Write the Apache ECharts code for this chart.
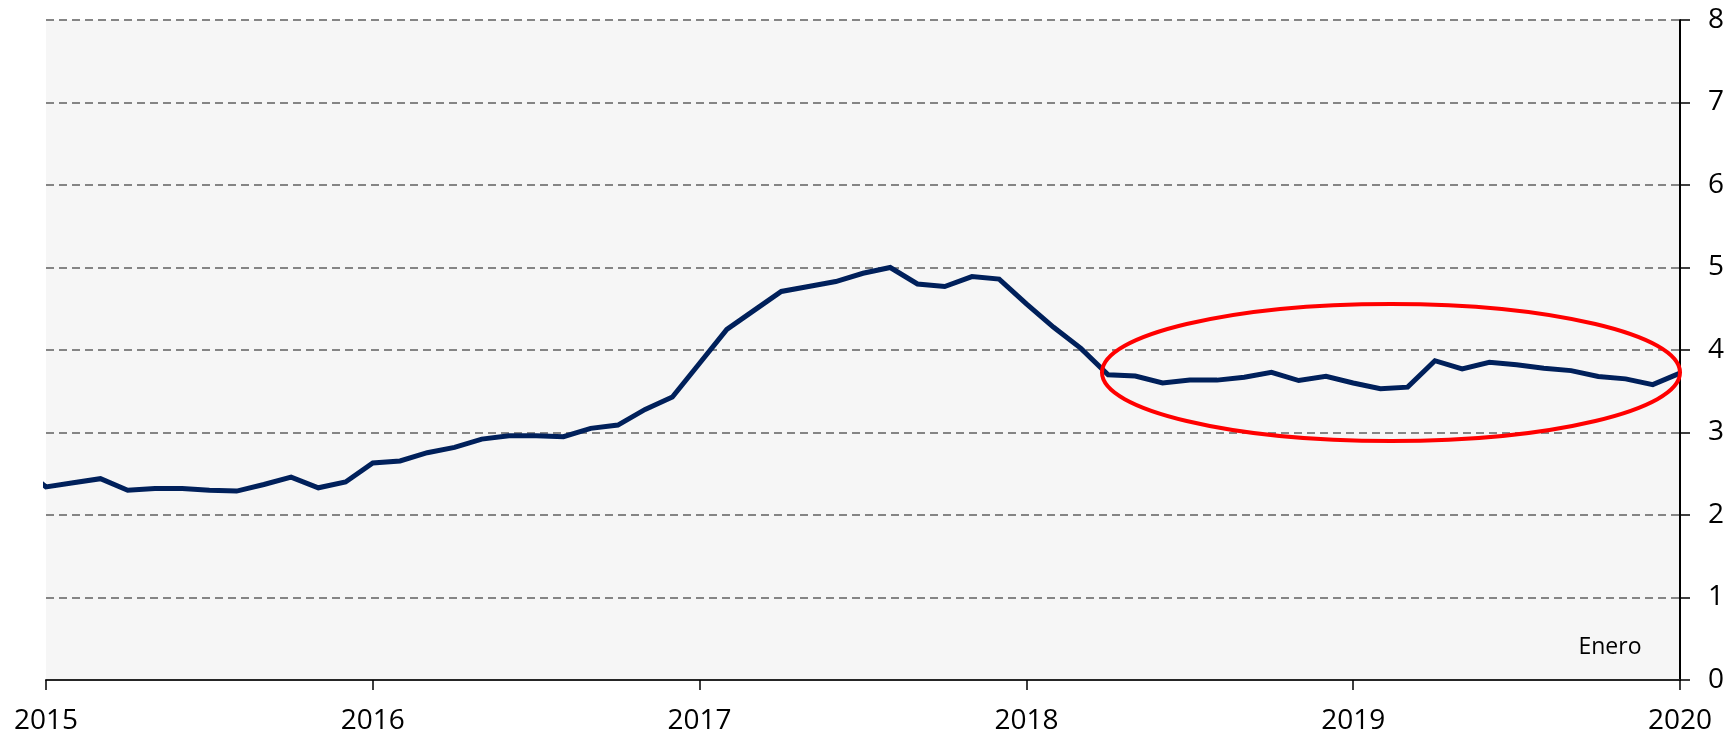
<!DOCTYPE html>
<html>
<head>
<meta charset="utf-8">
<title>Chart</title>
<script src="https://cdn.jsdelivr.net/npm/echarts@6/dist/echarts.min.js"></script>
<style>
    html, body { margin: 0; padding: 0; background: #ffffff; }
    #chart { width: 1729px; height: 737px; }
</style>
</head>
<body>
<div id="chart"></div>
<script>
// year tick labels (one every 12 months)
var years = ['2015', '2016', '2017', '2018', '2019', '2020'];

// Dec 2014, only the edge of it shows at the left border
var prevValue = 2.62;

// monthly values, Jan 2015 .. Jan 2020
var values2015 = [2.34, 2.39, 2.44, 2.30, 2.32, 2.32, 2.30, 2.29, 2.37, 2.46, 2.33, 2.40];
var values2016 = [2.63, 2.655, 2.755, 2.82, 2.92, 2.96, 2.96, 2.95, 3.05, 3.09, 3.28, 3.43];
var values2017 = [3.84, 4.25, 4.48, 4.71, 4.77, 4.83, 4.93, 5.00, 4.80, 4.77, 4.89, 4.86];
var values2018 = [4.56, 4.275, 4.02, 3.70, 3.685, 3.60, 3.635, 3.635, 3.67, 3.73, 3.63, 3.68];
var values2019 = [3.60, 3.53, 3.55, 3.87, 3.77, 3.85, 3.82, 3.78, 3.75, 3.68, 3.65, 3.58];
var values2020 = [3.72];

var yTicks = [0, 1, 2, 3, 4, 5, 6, 7, 8];

'use strict';
var dom = document.getElementById('chart');
var myChart = echarts.init(dom);

var monthly = [].concat(values2015, values2016, values2017, values2018, values2019, values2020);
var seriesData = [[-1, prevValue]];
monthly.forEach(function(v, i) {
    seriesData.push([i, v]);
});

var option = {
    animation: false,
    textStyle: { fontFamily: '"Open Sans", sans-serif' },
    grid: {
        left: 46,
        right: 49,
        top: 20,
        bottom: 57,
        show: true,
        backgroundColor: '#f6f6f6',
        borderWidth: 0
    },
    xAxis: {
        type: 'value',
        min: 0,
        max: (years.length - 1) * 12,
        interval: 12,
        axisLine: { show: true, onZero: false, lineStyle: { color: '#262626', width: 2 } },
        axisTick: { show: true, length: 10, lineStyle: { color: '#000000', width: 1.5 } },
        axisLabel: {
            color: '#000000',
            fontSize: 28,
            margin: 27,
            formatter: function(v) { return years[Math.round(v / 12)]; }
        },
        splitLine: { show: false }
    },
    yAxis: {
        type: 'value',
        position: 'right',
        min: yTicks[0],
        max: yTicks[yTicks.length - 1],
        interval: 1,
        axisLine: { show: true, onZero: false, lineStyle: { color: '#000000', width: 2 } },
        axisTick: { show: true, length: 10, lineStyle: { color: '#000000', width: 1.5 } },
        axisLabel: { color: '#000000', fontSize: 28, margin: 28 },
        splitLine: {
            show: true,
            lineStyle: { color: '#858585', width: 2, type: [8, 5] }
        }
    },
    series: [{
        type: 'line',
        data: seriesData,
        showSymbol: false,
        clip: true,
        lineStyle: { color: '#00205b', width: 5, join: 'miter' },
        itemStyle: { color: '#00205b' }
    }],
    graphic: [
        {
            type: 'ellipse',
            shape: { cx: 1391, cy: 372.5, rx: 289, ry: 68.5 },
            style: { fill: 'none', stroke: '#ff0000', lineWidth: 4 },
            z: 100
        },
        {
            type: 'text',
            x: 1610,
            y: 647,
            style: {
                text: 'Enero',
                fill: '#000000',
                font: '23px "Open Sans", sans-serif',
                align: 'center',
                verticalAlign: 'middle'
            },
            z: 100
        }
    ]
};

if (option && typeof option === 'object') {
    myChart.setOption(option);
}
</script>
</body>
</html>
